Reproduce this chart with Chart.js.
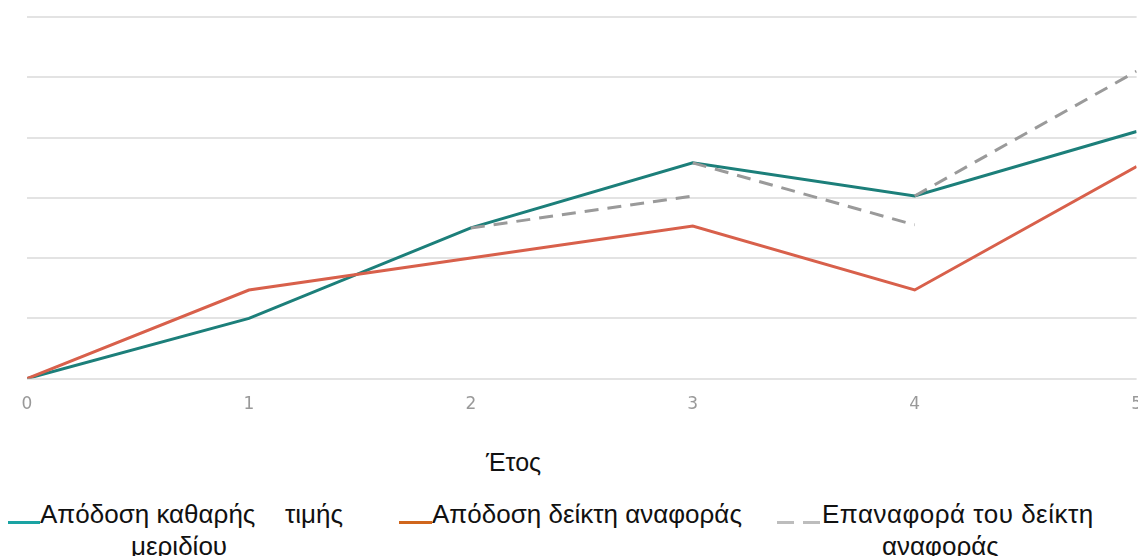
<!DOCTYPE html>
<html lang="el">
<head>
<meta charset="utf-8">
<script src="https://cdn.jsdelivr.net/npm/chart.js@4/dist/chart.umd.min.js"></script>
<style>
  html, body { margin: 0; padding: 0; background: #fff; overflow: hidden; }
  body { width: 1138px; height: 556px; position: relative; font-family: "Liberation Sans", Arial, sans-serif; color: #111; }
  #wrap { position: absolute; left: 0; top: 0; width: 1150px; height: 423px; }
  .txt { position: absolute; font-size: 26px; line-height: 30px; white-space: nowrap; }
  .mark { position: absolute; height: 3px; }
</style>
</head>
<body>
<div id="wrap"><canvas id="chart"></canvas></div>

<div class="txt" style="left:486px; top:447px; font-size:25px;">Έτος</div>

<div class="mark" style="left:8px; top:521px; width:32px; background:#1aa3a3;"></div>
<div class="txt" style="left:40px; top:499px;">Απόδοση καθαρής</div>
<div class="txt" style="left:285px; top:499px;">τιμής</div>
<div class="txt" style="left:131px; top:531px;">μεριδίου</div>

<div class="mark" style="left:399px; top:521px; width:33px; background:#d0661c;"></div>
<div class="txt" style="left:432px; top:499px;">Απόδοση δείκτη αναφοράς</div>

<div class="mark" style="left:777px; top:521px; width:17px; background:#bdbdbd;"></div>
<div class="mark" style="left:803px; top:521px; width:17px; background:#bdbdbd;"></div>
<div class="txt" style="left:822px; top:499px; letter-spacing:0.5px;">Επαναφορά του δείκτη</div>
<div class="txt" style="left:882px; top:531px;">αναφοράς</div>

<script>
  // δεδομένα (εκτίμηση από την εικόνα)
  const years = [0, 1, 2, 3, 4, 5];
  const navReturn = [0, 10, 25, 35.8, 30.3, 41];
  const benchReturn = [0, 14.7, 20, 25.3, 14.7, 35.2];
  const resetYears = [2, 3, 4];
  const resetEnd = [30.3, 25.5, 51];
  const yTicks = [0, 10, 20, 30, 40, 50, 60];

  const navPoints = years.map((x, i) => ({ x, y: navReturn[i] }));
  const benchPoints = years.map((x, i) => ({ x, y: benchReturn[i] }));

  // κάθε τμήμα ξεκινά από την τιμή μεριδίου του έτους
  const resetPoints = [];
  resetYears.forEach((yr, i) => {
    resetPoints.push({ x: yr, y: navReturn[years.indexOf(yr)] });
    resetPoints.push({ x: yr + 1, y: resetEnd[i] });
    resetPoints.push({ x: yr + 1, y: null });
  });

  new Chart(document.getElementById("chart"), {
    type: "line",
    data: {
      datasets: [
        {
          label: "Επαναφορά του δείκτη αναφοράς",
          data: resetPoints,
          borderColor: "#9a9a9a",
          borderWidth: 3,
          borderDash: [14, 9],
          pointRadius: 0,
          spanGaps: false,
        },
        {
          label: "Απόδοση δείκτη αναφοράς",
          data: benchPoints,
          borderColor: "#d8604b",
          borderWidth: 3,
          pointRadius: 0,
        },
        {
          label: "Απόδοση καθαρής τιμής μεριδίου",
          data: navPoints,
          borderColor: "#1c7f7a",
          borderWidth: 3,
          pointRadius: 0,
        },
      ],
    },
    options: {
      responsive: true,
      maintainAspectRatio: false,
      animation: false,
      layout: { padding: { left: 27, right: 6, top: 17, bottom: 0 } },
      plugins: { legend: { display: false }, tooltip: { enabled: false } },
      scales: {
        x: {
          type: "linear",
          min: 0,
          max: 5,
          grid: { display: false },
          border: { display: false },
          ticks: {
            stepSize: 1,
            color: "#999999",
            font: { family: "DejaVu Sans", size: 17 },
            padding: 8,
          },
        },
        y: {
          min: 0,
          max: 60,
          afterBuildTicks: (axis) => {
            axis.ticks = yTicks.map((v) => ({ value: v }));
          },
          ticks: { display: false },
          grid: { color: "#e3e3e3", lineWidth: 2, drawTicks: false },
          border: { display: false },
        },
      },
    },
  });
</script>
</body>
</html>
